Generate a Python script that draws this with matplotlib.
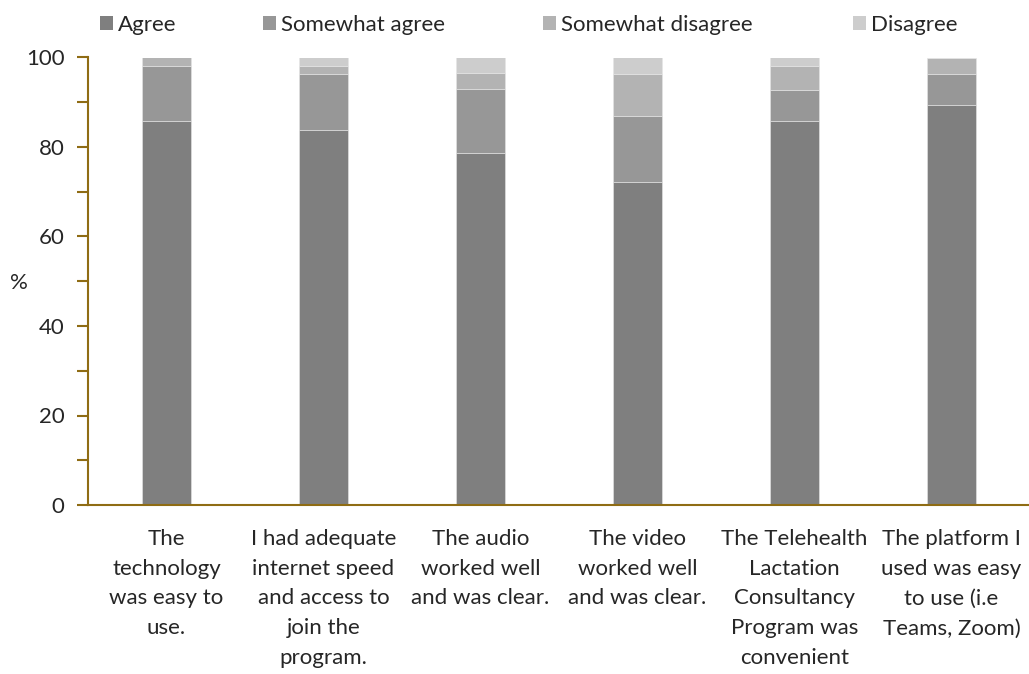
import matplotlib.pyplot as plt
from matplotlib.patches import Rectangle
import numpy as np

categories = [
    "The\ntechnology\nwas easy to\nuse.",
    "I had adequate\ninternet speed\nand access to\njoin the\nprogram.",
    "The audio\nworked well\nand was clear.",
    "The video\nworked well\nand was clear.",
    "The Telehealth\nLactation\nConsultancy\nProgram was\nconvenient",
    "The platform I\nused was easy\nto use (i.e\nTeams, Zoom)",
]
series_names = ["Agree", "Somewhat agree", "Somewhat disagree", "Disagree"]
agree = [85.7, 83.9, 78.6, 72.2, 85.7, 89.3]
somewhat_agree = [12.5, 12.5, 14.3, 14.7, 7.1, 7.1]
somewhat_disagree = [1.8, 1.8, 3.6, 9.5, 5.4, 3.6]
disagree = [0.0, 1.8, 3.6, 3.6, 1.8, 0.0]
yticks = [0, 20, 40, 60, 80, 100]

colors = ["#7f7f7f", "#979797", "#b3b3b3", "#cdcdcd"]
plt.rcParams['font.family'] = ['Lato', 'DejaVu Sans']
fs = 16
txt_c = "#262626"

W, H = 1029, 674
fig = plt.figure(figsize=(W / 100, H / 100), dpi=100)
ax = fig.add_axes([88 / W, 1 - 505 / H, (1030 - 88) / W, (505 - 57.5) / H])

x = np.arange(len(categories))
bottom = np.zeros(len(categories))
for name, vals, c in zip(series_names, [agree, somewhat_agree, somewhat_disagree, disagree], colors):
    ax.bar(x, vals, width=0.31, bottom=bottom, color=c, label=name,
           edgecolor="#e6e6e6", linewidth=0.4)
    bottom += np.array(vals)

ax.set_xlim(-0.5, len(categories) - 0.5)
ax.set_ylim(0, 100)
ax.set_yticks(yticks)
ax.set_yticks(np.arange(0, 101, 10), minor=True)
ax.set_xticks(x)
ax.set_xticklabels(categories, fontsize=fs, color=txt_c, linespacing=1.62, va="top")
ax.tick_params(axis='x', length=0, pad=17)
spine_c = "#8f6c14"
ax.tick_params(axis='y', which='both', length=8, width=1.5, color=spine_c,
               labelsize=fs, labelcolor=txt_c, pad=9)
for s in ["top", "right"]:
    ax.spines[s].set_visible(False)
for s in ["left", "bottom"]:
    ax.spines[s].set_color(spine_c)
    ax.spines[s].set_linewidth(1.5)
ax.set_ylabel("%", rotation=0, fontsize=fs, color=txt_c, va="center", ha="left")
ax.yaxis.set_label_coords(-(88 - 10) / (1030 - 88), (505 - 283) / (505 - 57.5))

# legend, Excel-style: square + label
leg_x = [100, 263, 543, 853]
leg_y = 23
sq = 13
for name, c, lx in zip(series_names, colors, leg_x):
    fig.add_artist(Rectangle((lx / W, 1 - (leg_y + sq / 2) / H), sq / W, sq / H,
                             transform=fig.transFigure, facecolor=c, edgecolor="none"))
    fig.text((lx + sq + 5) / W, 1 - (leg_y + 2) / H, name, fontsize=fs, color=txt_c,
             va="center", ha="left")

fig.savefig("out.png", dpi=100)
